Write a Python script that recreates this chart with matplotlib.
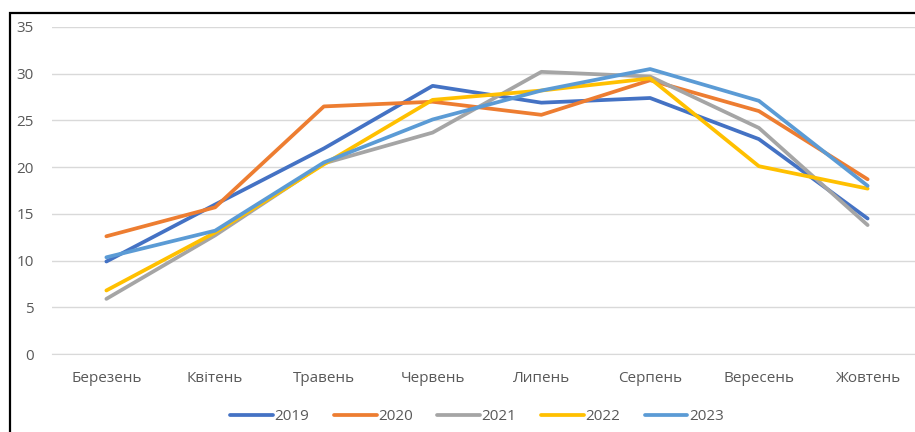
import matplotlib.pyplot as plt
from matplotlib.patches import Rectangle

months = ['Березень', 'Квітень', 'Травень', 'Червень', 'Липень', 'Серпень', 'Вересень', 'Жовтень']

y2019 = [9.9, 16.0, 22.0, 28.7, 26.9, 27.4, 23.0, 14.5]
y2020 = [12.6, 15.7, 26.5, 27.0, 25.6, 29.3, 26.0, 18.7]
y2021 = [5.9, 12.7, 20.4, 23.7, 30.2, 29.7, 24.2, 13.8]
y2022 = [6.8, 13.0, 20.3, 27.2, 28.2, 29.5, 20.1, 17.7]
y2023 = [10.35, 13.2, 20.5, 25.1, 28.2, 30.5, 27.1, 18.0]

series = [
    ('2019', y2019, '#4472C4'),
    ('2020', y2020, '#ED7D31'),
    ('2021', y2021, '#A5A5A5'),
    ('2022', y2022, '#FFC000'),
    ('2023', y2023, '#5B9BD5'),
]

plt.rcParams['font.family'] = ['Open Sans', 'DejaVu Sans']

fig = plt.figure(figsize=(9.15, 4.32), dpi=100)
ax = fig.add_axes([52 / 915, 1 - 354 / 432, 870 / 915, (354 - 27) / 432])

x = range(len(months))
for name, vals, color in series:
    ax.plot(x, vals, color=color, linewidth=2.7, label=name, solid_capstyle='round')

ax.set_xlim(-0.5, len(months) - 0.5)
ax.set_ylim(0, 35)
ax.set_yticks(range(0, 36, 5))
ax.set_xticks(list(x))
ax.set_xticklabels(months)
ax.grid(axis='y', color='#D9D9D9', linewidth=1)
ax.set_axisbelow(True)
for side in ['top', 'right', 'left']:
    ax.spines[side].set_visible(False)
ax.spines['bottom'].set_color('#D9D9D9')
ax.tick_params(axis='both', length=0, colors='#595959', labelsize=11)
ax.tick_params(axis='y', pad=13)
ax.tick_params(axis='x', pad=12)

fig.legend(loc='center', bbox_to_anchor=(477 / 915, 1 - 417 / 432), ncol=5, frameon=False,
           fontsize=11, handlelength=2.8, handletextpad=0.1, columnspacing=1.6,
           labelcolor='#595959')

# outer frame around the chart area
fig.patches.append(Rectangle((9.5 / 915, -0.05), 1.1, 1 - 13 / 432 + 0.05, transform=fig.transFigure,
                             fill=False, edgecolor='black', linewidth=1.6))

fig.savefig('out.png', dpi=100)
